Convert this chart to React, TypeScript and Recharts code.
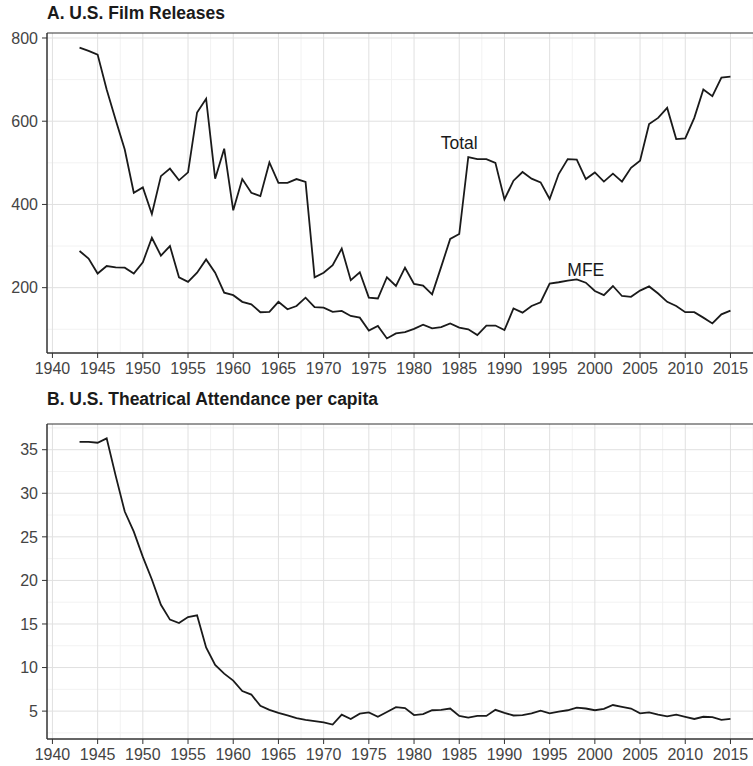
import React from 'react';
import {
  LineChart,
  Line,
  XAxis,
  YAxis,
  CartesianGrid,
  ReferenceArea,
  ReferenceDot,
} from 'recharts';

const years = [
  1943, 1944, 1945, 1946, 1947, 1948, 1949, 1950, 1951, 1952, 1953, 1954, 1955, 1956, 1957, 1958,
  1959, 1960, 1961, 1962, 1963, 1964, 1965, 1966, 1967, 1968, 1969, 1970, 1971, 1972, 1973, 1974,
  1975, 1976, 1977, 1978, 1979, 1980, 1981, 1982, 1983, 1984, 1985, 1986, 1987, 1988, 1989, 1990,
  1991, 1992, 1993, 1994, 1995, 1996, 1997, 1998, 1999, 2000, 2001, 2002, 2003, 2004, 2005, 2006,
  2007, 2008, 2009, 2010, 2011, 2012, 2013, 2014, 2015,
];

const totalReleases = [
  777, 769, 760, 676, 603, 532, 428, 441, 377, 468, 486, 458, 477, 621, 654, 462,
  534, 386, 461, 428, 420, 501, 452, 452, 461, 454, 225, 236, 254, 294, 218, 237,
  176, 174, 225, 204, 248, 209, 205, 184, 250, 317, 329, 514, 509, 509, 500, 412,
  457, 478, 462, 453, 413, 473, 509, 508, 461, 477, 455, 474, 455, 488, 505, 593,
  608, 632, 557, 559, 608, 676, 660, 705, 707,
];

const mfeReleases = [
  288, 270, 234, 252, 249, 248, 234, 261, 320, 277, 300, 225, 214, 236, 268, 236,
  188, 182, 166, 160, 141, 142, 166, 148, 156, 176, 153, 152, 142, 144, 132, 128,
  97, 108, 78, 90, 93, 101, 111, 102, 105, 114, 104, 100, 86, 109, 109, 98,
  150, 140, 156, 165, 210, 213, 217, 220, 212, 192, 182, 204, 180, 178, 193, 203,
  186, 166, 156, 141, 141, 128, 114, 136, 145,
];

const attendance = [
  35.9, 35.9, 35.8, 36.3, 32.0, 27.9, 25.6, 22.7, 20.1, 17.2, 15.5, 15.1, 15.8, 16.0, 12.3, 10.3,
  9.3, 8.5, 7.3, 6.9, 5.6, 5.15, 4.8, 4.5, 4.2, 4.0, 3.86, 3.7, 3.45, 4.6, 4.1, 4.7,
  4.85, 4.35, 4.9, 5.45, 5.35, 4.55, 4.65, 5.1, 5.15, 5.3, 4.45, 4.25, 4.45, 4.45, 5.15, 4.8,
  4.5, 4.55, 4.75, 5.05, 4.75, 4.95, 5.1, 5.4, 5.3, 5.1, 5.25, 5.7, 5.5, 5.3, 4.75, 4.85,
  4.6, 4.4, 4.6, 4.35, 4.1, 4.35, 4.3, 4.0, 4.1,
];

const xTicks = [1940, 1945, 1950, 1955, 1960, 1965, 1970, 1975, 1980, 1985, 1990, 1995, 2000, 2005, 2010, 2015];
const xMinor = [1942.5, 1947.5, 1952.5, 1957.5, 1962.5, 1967.5, 1972.5, 1977.5, 1982.5, 1987.5, 1992.5, 1997.5, 2002.5, 2007.5, 2012.5, 2017.5];
const releaseTicks = [200, 400, 600, 800];
const releaseMinor = [100, 300, 500, 700];
const attendanceTicks = [5, 10, 15, 20, 25, 30, 35];
const attendanceMinor = [2.5, 7.5, 12.5, 17.5, 22.5, 27.5, 32.5, 37.5];

const xDomain: [number, number] = [1939.4, 2018.6];
const releaseDomain: [number, number] = [43, 812];
const attendanceDomain: [number, number] = [1.8, 37.95];

const releaseRows = years.map((y, i) => ({ year: y, total: totalReleases[i], mfe: mfeReleases[i] }));
const attendanceRows = years.map((y, i) => ({ year: y, value: attendance[i] }));

const FONT = '"Liberation Sans", Arial, Helvetica, sans-serif';
const tickStyle = { fontSize: 16, fill: '#444', fontFamily: FONT };

const Panel = ({ data, yDomain, yTicks, yMinor, children, height, top }: any) => (
  <LineChart
    width={770}
    height={height}
    data={data}
    margin={{ top, right: 7, left: 0, bottom: 2 }}
  >
    <CartesianGrid
      stroke="#f2f2f2"
      strokeWidth={1}
      horizontalValues={yMinor}
      verticalValues={xMinor}
    />
    <CartesianGrid
      stroke="#e0e0e0"
      strokeWidth={1}
      horizontalValues={yTicks}
      verticalValues={xTicks}
    />
    <XAxis
      dataKey="year"
      type="number"
      domain={xDomain}
      ticks={xTicks}
      allowDataOverflow
      height={25}
      tick={tickStyle}
      tickSize={5}
      tickMargin={5}
      axisLine={{ stroke: '#333' }}
      tickLine={{ stroke: '#333' }}
    />
    <YAxis
      type="number"
      domain={yDomain}
      ticks={yTicks}
      allowDataOverflow
      width={47}
      tick={tickStyle}
      tickSize={5}
      tickMargin={4}
      axisLine={{ stroke: '#333' }}
      tickLine={{ stroke: '#333' }}
    />
    <ReferenceArea
      x1={xDomain[0]}
      x2={xDomain[1]}
      y1={yDomain[0]}
      y2={yDomain[1]}
      fill="none"
      stroke="#333"
      strokeWidth={1}
      ifOverflow="visible"
    />
    {children}
  </LineChart>
);

const labelStyle = { fontSize: 17.5, fill: '#1a1a1a', fontFamily: FONT };

export default function App() {
  return (
    <div
      style={{
        position: 'fixed',
        left: 0,
        top: 0,
        width: 753,
        height: 766,
        overflow: 'hidden',
        background: '#fff',
        fontFamily: FONT,
      }}
    >
      <div style={{ position: 'absolute', left: 47, top: 3, fontSize: 17.5, lineHeight: '20px', fontWeight: 'bold', color: '#1a1a1a' }}>
        A. U.S. Film Releases
      </div>
      <div style={{ position: 'absolute', left: 0, top: 0 }}>
        <Panel data={releaseRows} yDomain={releaseDomain} yTicks={releaseTicks} yMinor={releaseMinor} height={380} top={33}>
          <Line dataKey="total" type="linear" stroke="#1a1a1a" strokeWidth={1.8} dot={false} isAnimationActive={false} />
          <Line dataKey="mfe" type="linear" stroke="#1a1a1a" strokeWidth={1.8} dot={false} isAnimationActive={false} />
          <ReferenceDot x={1985} y={547} r={0} label={{ value: 'Total', position: 'center', style: labelStyle }} />
          <ReferenceDot x={1999} y={243} r={0} label={{ value: 'MFE', position: 'center', style: labelStyle }} />
        </Panel>
      </div>
      <div style={{ position: 'absolute', left: 47, top: 389, fontSize: 17.5, lineHeight: '20px', fontWeight: 'bold', color: '#1a1a1a' }}>
        B. U.S. Theatrical Attendance per capita
      </div>
      <div style={{ position: 'absolute', left: 0, top: 385 }}>
        <Panel data={attendanceRows} yDomain={attendanceDomain} yTicks={attendanceTicks} yMinor={attendanceMinor} height={381} top={39}>
          <Line dataKey="value" type="linear" stroke="#1a1a1a" strokeWidth={1.8} dot={false} isAnimationActive={false} />
        </Panel>
      </div>
    </div>
  );
}
